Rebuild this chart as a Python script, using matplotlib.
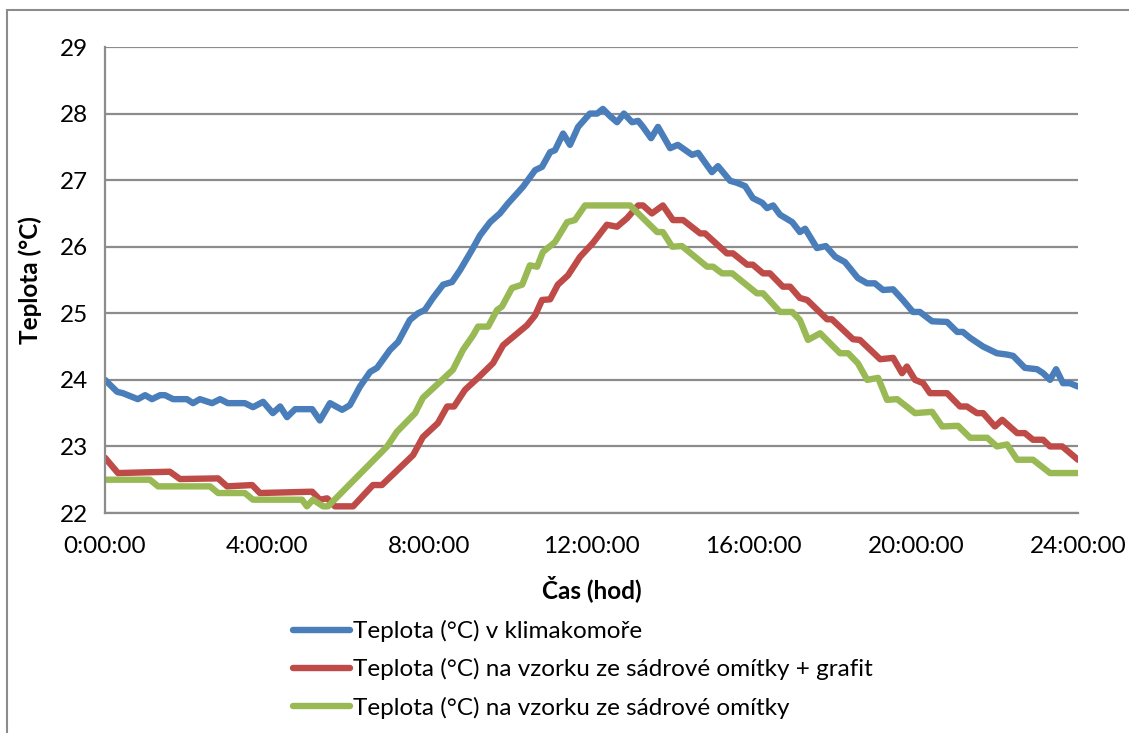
import matplotlib
matplotlib.use("Agg")
from matplotlib import pyplot as plt
from matplotlib.patches import Rectangle
import numpy as np

plt.rcParams['font.family'] = ['Lato', 'DejaVu Sans']

# time in hours
t_komora = [0.00, 0.30, 0.44, 0.81, 0.99, 1.16, 1.36, 1.48, 1.68, 2.02, 2.17, 2.34, 2.64, 2.84,
            3.03, 3.45, 3.65, 3.90, 4.14, 4.32, 4.49, 4.69, 5.11, 5.30, 5.55, 5.85, 6.04, 6.29,
            6.54, 6.71, 7.03, 7.23, 7.52, 7.72, 7.89, 8.09, 8.34, 8.56, 8.76, 9.05, 9.25, 9.50,
            9.74, 9.94, 10.31, 10.61, 10.78, 10.98, 11.10, 11.30, 11.47, 11.67, 11.96, 12.14,
            12.28, 12.46, 12.63, 12.80, 13.00, 13.15, 13.27, 13.47, 13.64, 13.94, 14.13, 14.48,
            14.63, 14.97, 15.12, 15.42, 15.59, 15.79, 15.98, 16.21, 16.33, 16.48, 16.65, 16.95,
            17.14, 17.27, 17.56, 17.78, 18.01, 18.25, 18.57, 18.80, 18.99, 19.19, 19.44, 19.68,
            19.93, 20.10, 20.40, 20.77, 21.02, 21.16, 21.34, 21.66, 22.00, 22.25, 22.40, 22.69,
            22.99, 23.14, 23.31, 23.46, 23.63, 23.80, 24.00]
v_komora = [24.0, 23.82, 23.8, 23.71, 23.77, 23.71, 23.77, 23.77, 23.71, 23.71, 23.65, 23.71, 23.65, 23.71,
            23.65, 23.65, 23.59, 23.67, 23.5, 23.6, 23.44, 23.56, 23.56, 23.39, 23.65, 23.55, 23.62, 23.9,
            24.12, 24.18, 24.45, 24.57, 24.9, 25.0, 25.05, 25.23, 25.43, 25.47, 25.65, 25.95, 26.17, 26.37,
            26.5, 26.65, 26.9, 27.15, 27.2, 27.42, 27.45, 27.7, 27.53, 27.8, 28.0, 28.0,
            28.07, 27.96, 27.87, 28.0, 27.87, 27.89, 27.8, 27.63, 27.8, 27.48, 27.53, 27.38,
            27.41, 27.12, 27.21, 26.99, 26.96, 26.91, 26.73, 26.66, 26.58, 26.62, 26.48, 26.37,
            26.22, 26.27, 25.98, 26.01, 25.85, 25.77, 25.53, 25.45, 25.45, 25.35, 25.36, 25.2,
            25.02, 25.02, 24.88, 24.87, 24.72, 24.72, 24.63, 24.5, 24.4, 24.38, 24.36, 24.18,
            24.16, 24.1, 24.0, 24.16, 23.95, 23.95, 23.9]

t_grafit = [0.00, 0.32, 1.60, 1.85, 2.79, 3.01, 3.63, 3.82, 5.11, 5.30, 5.48, 5.67, 6.12, 6.61,
            6.83, 7.60, 7.84, 8.21, 8.44, 8.61, 8.88, 9.20, 9.57, 9.82, 10.41, 10.61, 10.78, 10.98,
            11.17, 11.42, 11.72, 12.04, 12.38, 12.63, 12.88, 13.15, 13.27, 13.49, 13.76, 14.01,
            14.26, 14.68, 14.80, 15.34, 15.49, 15.84, 15.98, 16.23, 16.40, 16.72, 16.90, 17.14,
            17.32, 17.81, 17.93, 18.45, 18.62, 19.12, 19.44, 19.66, 19.78, 19.98, 20.18, 20.35,
            20.77, 21.09, 21.26, 21.51, 21.66, 21.95, 22.13, 22.50, 22.69, 22.89, 23.14, 23.31,
            23.61, 24.00]
v_grafit = [22.83, 22.6, 22.62, 22.51, 22.52, 22.4, 22.42, 22.3, 22.32, 22.2, 22.22, 22.1, 22.1, 22.42,
            22.42, 22.87, 23.14, 23.35, 23.6, 23.6, 23.85, 24.03, 24.25, 24.52, 24.82, 24.97, 25.2, 25.21,
            25.43, 25.57, 25.85, 26.06, 26.33, 26.3, 26.43, 26.62, 26.62, 26.5, 26.62, 26.4,
            26.4, 26.2, 26.2, 25.9, 25.9, 25.73, 25.73, 25.6, 25.6, 25.4, 25.4, 25.23,
            25.2, 24.91, 24.91, 24.61, 24.6, 24.31, 24.33, 24.1, 24.2, 24.0, 23.95, 23.8,
            23.8, 23.6, 23.6, 23.5, 23.5, 23.3, 23.4, 23.2, 23.2, 23.1, 23.1, 23.0,
            23.0, 22.8]

t_omitka = [0.00, 1.11, 1.31, 2.59, 2.79, 3.45, 3.65, 4.86, 4.98, 5.13, 5.38, 5.50, 6.96, 7.20,
            7.65, 7.84, 8.58, 8.83, 9.08, 9.20, 9.45, 9.67, 9.79, 10.04, 10.29, 10.48, 10.66, 10.80,
            11.10, 11.40, 11.59, 11.84, 12.95, 13.62, 13.76, 13.99, 14.23, 14.85, 15.00, 15.22,
            15.47, 16.08, 16.23, 16.65, 16.95, 17.14, 17.34, 17.64, 18.13, 18.33, 18.57, 18.80,
            19.07, 19.29, 19.54, 19.98, 20.40, 20.65, 21.04, 21.34, 21.76, 22.00, 22.25, 22.50,
            22.89, 23.31, 24.00]
v_omitka = [22.5, 22.5, 22.4, 22.4, 22.3, 22.3, 22.2, 22.2, 22.1, 22.2, 22.1, 22.1, 23.0, 23.22,
            23.5, 23.73, 24.15, 24.45, 24.67, 24.8, 24.8, 25.05, 25.1, 25.38, 25.43, 25.72, 25.7, 25.92,
            26.07, 26.37, 26.4, 26.62, 26.62, 26.22, 26.22, 26.0, 26.01, 25.7, 25.7, 25.6,
            25.6, 25.3, 25.3, 25.02, 25.02, 24.9, 24.6, 24.7, 24.4, 24.4, 24.25, 24.0,
            24.03, 23.7, 23.71, 23.5, 23.52, 23.3, 23.31, 23.13, 23.13, 23.0, 23.03, 22.8,
            22.8, 22.6, 22.6]

labels = ['Teplota (°C) v klimakomoře',
          'Teplota (°C) na vzorku ze sádrové omítky + grafit',
          'Teplota (°C) na vzorku ze sádrové omítky']
colors = ['#4A7EBB', '#BE4B48', '#98B954']

x_ticks = [0, 4, 8, 12, 16, 20, 24]
x_ticklabels = ['%d:00:00' % h for h in x_ticks]
y_ticks = [22, 23, 24, 25, 26, 27, 28, 29]

fs = 17.5
fig = plt.figure(figsize=(11.29, 7.33), dpi=100)
ax = fig.add_axes([105/1129, 1-513/733, (1078-105)/1129, (513-47)/733])

series = [(t_komora, v_komora), (t_grafit, v_grafit), (t_omitka, v_omitka)]
for (t, v), lab, c in zip(series, labels, colors):
    ax.plot(t, v, color=c, lw=4.6, label=lab, solid_joinstyle='round', solid_capstyle='round')

ax.set_xlim(0, 24)
ax.set_ylim(22, 29)
ax.set_xticks(x_ticks)
ax.set_xticklabels(x_ticklabels)
ax.set_yticks(y_ticks)
ax.tick_params(length=0, labelsize=fs)
ax.tick_params(axis='x', pad=16.5)
ax.tick_params(axis='y', pad=12)
ax.yaxis.grid(True, color='#8c8c8c', lw=1.6)
ax.set_axisbelow(True)
for s in ['top', 'right']:
    ax.spines[s].set_visible(False)
for s in ['left', 'bottom']:
    ax.spines[s].set_color('#8c8c8c')
    ax.spines[s].set_linewidth(1.6)

ax.set_xlabel('Čas (hod)', fontsize=fs, fontweight='bold', labelpad=13)
ax.set_ylabel('Teplota (°C)', fontsize=fs, fontweight='bold', labelpad=13)

fig.legend(loc='upper left', bbox_to_anchor=(293/1129, 1-620/733), frameon=False,
           borderpad=0, borderaxespad=0,
           fontsize=fs, handlelength=2.35, handletextpad=0.1, labelspacing=0.67)

fig.patches.append(Rectangle((7/1129, -0.1), 1.2, 1.1 - 10/733, transform=fig.transFigure,
                             fill=False, edgecolor='#8c8c8c', lw=1.5))

fig.savefig('out.png', dpi=100)
